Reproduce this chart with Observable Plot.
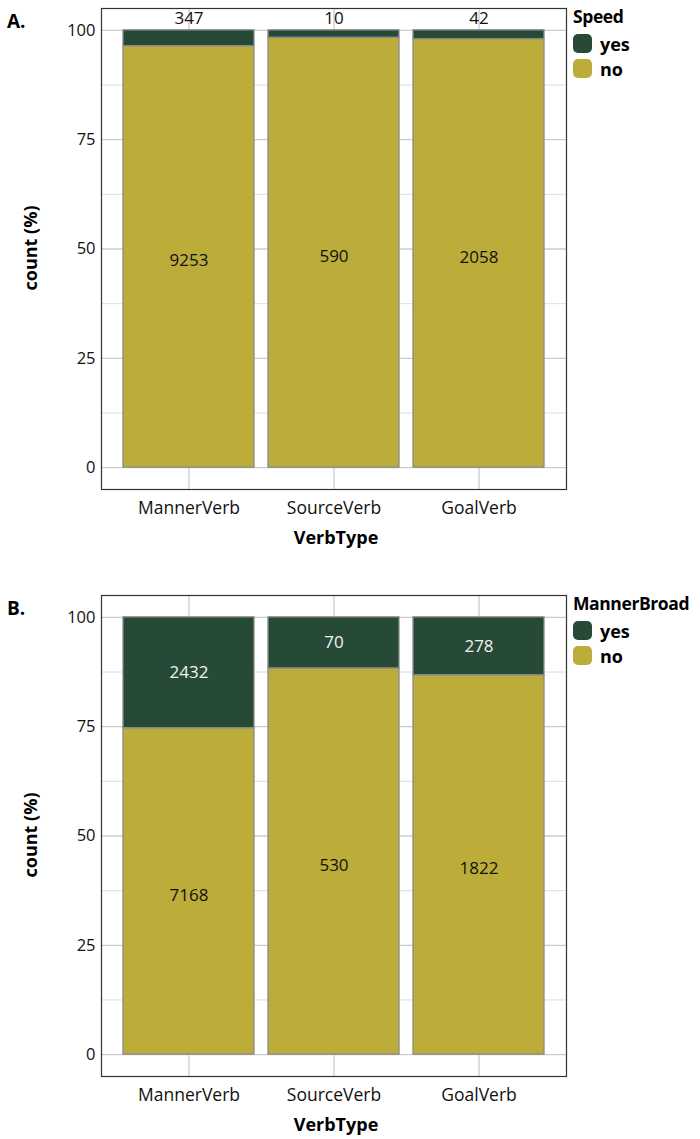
<!DOCTYPE html>
<html>
<head>
<meta charset="utf-8">
<script src="https://cdn.jsdelivr.net/npm/d3@7"></script>
<script src="https://cdn.jsdelivr.net/npm/@observablehq/plot@0.6"></script>
<style>
  html, body { margin: 0; padding: 0; background: #fff; }
  body { width: 700px; height: 1139px; font-family: "Open Sans", "Noto Sans", sans-serif; }
  .panel { position: absolute; left: 0; width: 700px; }
  .tag { position: absolute; left: 7px; font-weight: bold; font-size: 19px; color: #000; }
  .legend { position: absolute; left: 573px; font-size: 18px; color: #000; }
  .legend .title { font-weight: bold; margin-bottom: 3px; font-size: 17.5px; letter-spacing: -0.4px; white-space: nowrap; }
  .legend .item { display: flex; align-items: center; height: 25px; font-weight: bold; }
  .legend .sw { width: 19px; height: 19px; border-radius: 5px; margin-right: 8px; }
</style>
</head>
<body>
<div id="root"></div>
<script>
const categories = ["MannerVerb", "SourceVerb", "GoalVerb"];
const levels = ["yes", "no"];
const speedYes = [347, 10, 42];
const speedNo = [9253, 590, 2058];
const mannerYes = [2432, 70, 278];
const mannerNo = [7168, 530, 1822];
const yTicks = [0, 25, 50, 75, 100];
const yMinor = [12.5, 37.5, 62.5, 87.5];
const colors = ["#274a37", "#bcac3a"];

function rows(yesArr, noArr) {
  const out = [];
  categories.forEach((c, i) => {
    const total = yesArr[i] + noArr[i];
    const pNo = noArr[i] / total * 100;
    out.push({cat: c, level: "no", n: noArr[i], y1: 0, y2: pNo});
    out.push({cat: c, level: "yes", n: yesArr[i], y1: pNo, y2: 100});
  });
  return out;
}

function panel(top, tag, legendTitle, yesArr, noArr, yesInside) {
  const data = rows(yesArr, noArr);
  const wrap = document.createElement("div");
  wrap.className = "panel";
  wrap.style.top = top + "px";
  const marks = [
    Plot.ruleY(yMinor, {stroke: "#d4d4d4", strokeWidth: 0.8}),
    Plot.ruleY(yTicks, {stroke: "#cccccc", strokeWidth: 1.3}),
    Plot.ruleX(categories, {x: d => d, stroke: "#cccccc", strokeWidth: 1.3}),
    Plot.rectY(data, {x: "cat", y1: "y1", y2: "y2", fill: "level", stroke: "#8a8a8a", strokeWidth: 1.3}),
    Plot.text(data.filter(d => d.level === "no"), {
      x: "cat", y: d => (d.y1 + d.y2) / 2, text: d => String(d.n),
      fill: "#111", fontSize: 17, dy: 4
    }),
    yesInside
      ? Plot.text(data.filter(d => d.level === "yes"), {
          x: "cat", y: d => (d.y1 + d.y2) / 2, text: d => String(d.n),
          fill: "#f2f2f2", fontSize: 17
        })
      : Plot.text(data.filter(d => d.level === "yes"), {
          x: "cat", y: "y2", text: d => String(d.n),
          fill: "#111", fontSize: 17, dy: -12
        }),
    Plot.frame({stroke: "#333", strokeWidth: 1.2}),
    Plot.axisY(yTicks, {tickSize: 0, tickPadding: 6, fontSize: 16.5, label: null, fill: "#111"}),
    Plot.axisX({tickSize: 0, tickPadding: 12, fontSize: 17.5, label: null, fill: "#111"})
  ];
  const chart = Plot.plot({
    width: 700,
    height: 552,
    marginLeft: 101,
    marginRight: 134,
    marginTop: 8,
    marginBottom: 63,
    style: {fontFamily: "'Open Sans', 'Noto Sans', sans-serif", color: "#111", background: "#fff", overflow: "visible"},
    x: {domain: categories, paddingInner: 0.1, paddingOuter: 0.143, label: null},
    y: {domain: [-5, 105], label: null},
    color: {domain: levels, range: colors},
    marks
  });
  wrap.appendChild(chart);

  const svg = d3.select(chart);
  svg.append("text").attr("x", 336).attr("y", 544).attr("text-anchor", "middle")
    .attr("font-size", 18).attr("font-weight", "bold").attr("fill", "#000").text("VerbType");
  svg.append("text").attr("transform", "translate(37,248) rotate(-90)").attr("text-anchor", "middle")
    .attr("font-size", 18).attr("font-weight", "bold").attr("fill", "#000").text("count (%)");

  const t = document.createElement("div");
  t.className = "tag"; t.style.top = "8px"; t.textContent = tag;
  wrap.appendChild(t);

  const lg = document.createElement("div");
  lg.className = "legend"; lg.style.top = "4px";
  lg.innerHTML = `<div class="title">${legendTitle}</div>` +
    levels.map((l, i) => `<div class="item"><div class="sw" style="background:${colors[i]}"></div>${l}</div>`).join("");
  wrap.appendChild(lg);
  document.getElementById("root").appendChild(wrap);
}

panel(0, "A.", "Speed", speedYes, speedNo, false);
panel(587, "B.", "MannerBroad", mannerYes, mannerNo, true);
</script>
</body>
</html>
